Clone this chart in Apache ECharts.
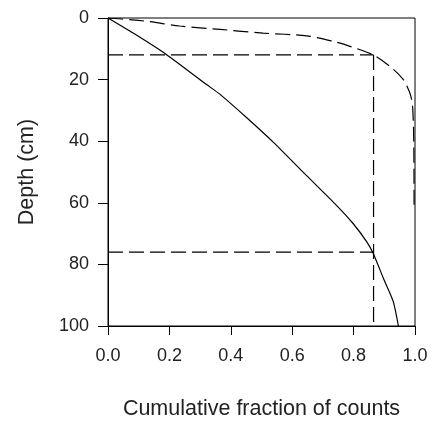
<!DOCTYPE html>
<html><head><meta charset="utf-8">
<script src="https://cdn.jsdelivr.net/npm/echarts@6/dist/echarts.min.js"></script>
<style>html,body{margin:0;padding:0;background:#fff}#c{width:433px;height:425px}</style>
</head><body><div id="c"></div>
<script>
// Cumulative fraction (x) vs depth in cm (y)
const dashedCurve = [[0,0],[0.08,0.6],[0.137,1.2],[0.234,2.6],[0.365,3.7],[0.505,4.9],[0.647,5.8],[0.73,7.5],[0.788,9.2],[0.864,12],[0.924,16.2],[0.962,20],[0.982,24],[0.989,26.5],[0.993,30],[0.996,40],[0.997,62]];
const solidCurve = [[0,0],[0.082,4.9],[0.191,11.9],[0.321,21.6],[0.365,24.8],[0.452,32.4],[0.539,40.4],[0.647,51.2],[0.745,60.9],[0.799,66.8],[0.843,72.7],[0.864,76.5],[0.897,84.5],[0.929,92],[0.946,100]];
const upperDepth = 12;
const lowerDepth = 76;
const refFraction = 0.865;
const xTicks = [0, 0.2, 0.4, 0.6, 0.8, 1.0];
const yTicks = [0, 20, 40, 60, 80, 100];

const chart = echarts.init(document.getElementById('c'));
const font = 'Liberation Sans, Arial, sans-serif';
const dash = [15, 6];
chart.setOption({
  animation: false,
  grid: {left: 108, right: 18, top: 18, bottom: 97, show: true, borderColor: '#000', borderWidth: 1},
  xAxis: {
    type: 'value', min: xTicks[0], max: xTicks[xTicks.length-1], interval: 0.2,
    name: 'Cumulative fraction of counts', nameLocation: 'middle', nameGap: 72,
    nameTextStyle: {fontFamily: font, fontSize: 21.5, color: '#222'},
    axisLine: {onZero: false, lineStyle: {color: '#000', width: 1}},
    axisTick: {length: 9, lineStyle: {color: '#000'}},
    axisLabel: {margin: 21, fontFamily: font, fontSize: 18, color: '#222', formatter: v => v.toFixed(1)},
    splitLine: {show: false}
  },
  yAxis: {
    type: 'value', inverse: true, min: yTicks[0], max: yTicks[yTicks.length-1], interval: 20,
    name: 'Depth (cm)', nameLocation: 'middle', nameGap: 70,
    nameTextStyle: {fontFamily: font, fontSize: 21.5, color: '#222'},
    axisLine: {onZero: false, lineStyle: {color: '#000', width: 1}},
    axisTick: {length: 10, lineStyle: {color: '#000'}},
    axisLabel: {margin: 19, fontFamily: font, fontSize: 18, color: '#222'},
    splitLine: {show: false}
  },
  series: [
    {type: 'line', data: dashedCurve, symbol: 'none', smooth: 0.3, lineStyle: {color: '#000', width: 1.2, type: dash}},
    {type: 'line', data: solidCurve, symbol: 'none', smooth: 0.2, lineStyle: {color: '#000', width: 1.2}},
    {type: 'line', data: [[0, upperDepth], [refFraction, upperDepth]], symbol: 'none', lineStyle: {color: '#000', width: 1.2, type: dash}},
    {type: 'line', data: [[0, lowerDepth], [refFraction, lowerDepth]], symbol: 'none', lineStyle: {color: '#000', width: 1.2, type: dash}},
    {type: 'line', data: [[refFraction, upperDepth], [refFraction, 100]], symbol: 'none', lineStyle: {color: '#000', width: 1.2, type: dash}}
  ]
});
</script></body></html>
